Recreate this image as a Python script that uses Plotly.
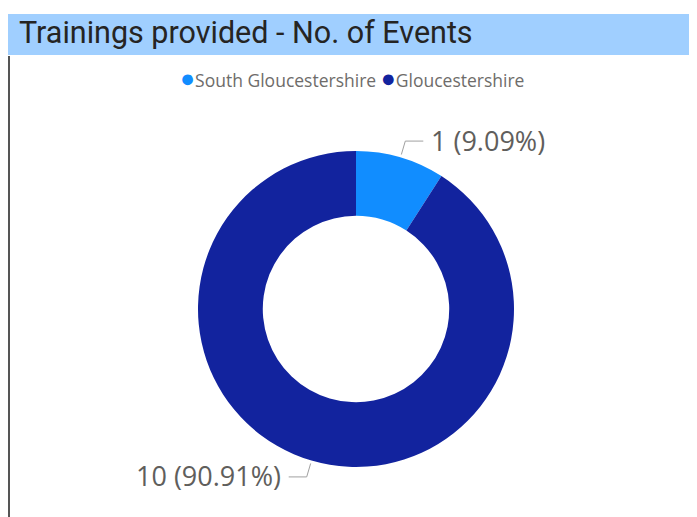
import math
import plotly.graph_objects as go

# ---- data ----
categories = ["South Gloucestershire", "Gloucestershire"]
values = [1, 10]
colors = ["#118DFF", "#12239E"]
title_text = "Trainings provided - No. of Events"

W, H = 697, 517
CX, CY, R = 348, 301, 158
HOLE = 0.59

def px(x):
    return x / W

def py(y):
    return 1 - y / H

fig = go.Figure()
fig.add_trace(go.Pie(
    labels=categories, values=values, hole=HOLE, sort=False,
    direction="clockwise", rotation=0,
    marker=dict(colors=colors, line=dict(width=0)),
    textinfo="none", showlegend=False, hoverinfo="label+value+percent",
    domain=dict(x=[px(CX - R), px(CX + R)], y=[py(CY + R), py(CY - R)]),
))

shapes = []
annotations = []

# title bar
shapes.append(dict(type="rect", xref="paper", yref="paper",
                   x0=0, x1=1.0, y0=py(47), y1=py(6),
                   fillcolor="#A0CFFF", line=dict(width=0), layer="below"))
# left border
shapes.append(dict(type="line", xref="paper", yref="paper",
                   x0=px(1), x1=px(1), y0=py(48), y1=0,
                   line=dict(color="#555555", width=2)))

annotations.append(dict(text=title_text, xref="paper", yref="paper",
                        x=px(9), y=py(25), xanchor="left", yanchor="middle",
                        showarrow=False,
                        font=dict(family="Roboto", size=30.5, color="#252423")))

# legend (built from categories/colors)
legend_html = " ".join(
    f"<span style='color:{c};font-size:25px'>●</span>{name}" for name, c in zip(categories, colors)
)
annotations.append(dict(text=legend_html, xref="paper", yref="paper",
                        x=px(344), y=py(69), xanchor="center", yanchor="middle",
                        showarrow=False,
                        font=dict(family="Open Sans", size=17.5, color="#6E6C6A")))

# outside labels with leader lines, positioned from data angles
total = sum(values)
cum = 0
for v in values:
    mid = (cum + v / 2) / total
    cum += v
    ang = math.radians(90 - mid * 360)
    c, s = math.cos(ang), math.sin(ang)
    x1, y1 = CX + (R + 3) * c, CY - (R + 3) * s
    x2, y2 = CX + (R + 17) * c, CY - (R + 17) * s
    side = 1 if c >= 0 else -1
    x3 = x2 + side * 18
    shapes.append(dict(type="path", xref="paper", yref="paper",
                       path=f"M {px(x1)} {py(y1)} L {px(x2)} {py(y2)} L {px(x3)} {py(y2)}",
                       line=dict(color="#A0A0A0", width=1)))
    pct = v / total * 100
    annotations.append(dict(text=f"{v} ({pct:.2f}%)", xref="paper", yref="paper",
                            x=px(x3 + side * 6), y=py(y2 - 1),
                            xanchor="left" if side > 0 else "right", yanchor="middle",
                            showarrow=False,
                            font=dict(family="Open Sans", size=27, color="#605E5C")))

fig.update_layout(
    width=W, height=H,
    margin=dict(l=0, r=0, t=0, b=0),
    paper_bgcolor="white", plot_bgcolor="white",
    shapes=shapes, annotations=annotations,
)

fig.write_html("out.html")
